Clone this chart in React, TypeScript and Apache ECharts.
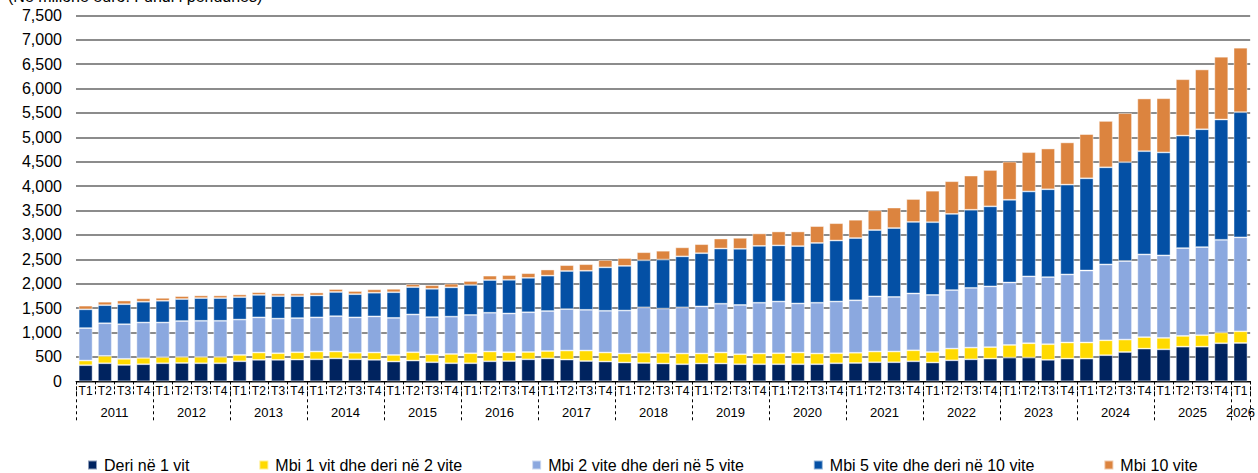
import React, { useEffect, useRef } from 'react';
import * as echarts from 'echarts';

const years = ['2011', '2012', '2013', '2014', '2015', '2016', '2017', '2018', '2019', '2020', '2021', '2022', '2023', '2024', '2025', '2026'];
const quarterNames = ['T1', 'T2', 'T3', 'T4'];
const seriesNames = [
  'Deri në 1 vit',
  'Mbi 1 vit dhe deri në 2 vite',
  'Mbi 2 vite dhe deri në 5 vite',
  'Mbi 5 vite dhe deri në 10 vite',
  'Mbi 10 vite',
];
const title = '(Në milionë euro. Fundi i periudhës)';

// 2011T1 ... 2026T1 (61 quarters)
const deriNe1Vit = [
  330, 370, 335, 350, 370, 375, 370, 370, 410, 440, 440, 445, 450, 470, 450, 440,
  405, 425, 390, 370, 370, 410, 415, 450, 470, 445, 415, 405, 385, 375, 365, 350,
  365, 365, 350, 350, 350, 350, 350, 370, 375, 390, 390, 410, 385, 430, 450, 465,
  485, 485, 440, 465, 465, 535, 600, 670, 655, 710, 710, 780, 785,
];
const mbi1Deri2 = [
  95, 150, 125, 130, 125, 125, 130, 130, 130, 150, 135, 150, 160, 140, 135, 150,
  135, 170, 160, 190, 205, 200, 180, 150, 150, 185, 215, 185, 185, 210, 215, 220,
  205, 225, 205, 220, 225, 240, 220, 205, 210, 220, 220, 225, 215, 240, 240, 235,
  260, 295, 320, 330, 330, 305, 255, 235, 235, 220, 235, 220, 240,
];
const mbi2Deri5 = [
  665, 670, 710, 725, 710, 735, 740, 740, 725, 720, 710, 700, 700, 725, 725, 740,
  760, 775, 765, 765, 785, 795, 795, 815, 820, 850, 835, 855, 880, 930, 910, 945,
  965, 1000, 1010, 1040, 1060, 1005, 1040, 1060, 1075, 1130, 1120, 1165, 1170, 1200, 1225, 1245,
  1280, 1370, 1375, 1395, 1475, 1555, 1610, 1695, 1690, 1800, 1805, 1900, 1925,
];
const mbi5Deri10 = [
  385, 370, 410, 425, 445, 450, 465, 465, 460, 460, 460, 450, 450, 495, 475, 485,
  525, 560, 580, 600, 615, 670, 690, 705, 725, 780, 800, 890, 915, 965, 1005, 1045,
  1090, 1130, 1150, 1165, 1150, 1175, 1225, 1250, 1275, 1360, 1410, 1465, 1490, 1560, 1600, 1640,
  1695, 1740, 1800, 1840, 1890, 1990, 2025, 2115, 2110, 2305, 2415, 2465, 2565,
];
const mbi10 = [
  75, 70, 75, 70, 60, 60, 55, 55, 55, 55, 55, 55, 60, 60, 65, 70,
  70, 60, 75, 75, 80, 90, 95, 95, 125, 120, 135, 150, 160, 165, 180, 185,
  185, 205, 225, 255, 285, 300, 345, 355, 375, 405, 420, 470, 645, 670, 700, 745,
  780, 805, 835, 865, 905, 950, 1005, 1080, 1110, 1155, 1225, 1285, 1320,
];

const seriesValues = [deriNe1Vit, mbi1Deri2, mbi2Deri5, mbi5Deri10, mbi10];
const colors = ['#00235F', '#FFDA00', '#8BA8DF', '#0450A5', '#DC843F'];

// quarter categories and the year each belongs to
const categories: string[] = [];
const categoryYears: string[] = [];
years.forEach((y, yi) => {
  const n = yi === years.length - 1 ? 1 : 4;
  for (let q = 0; q < n; q++) {
    categories.push(quarterNames[q]);
    categoryYears.push(y);
  }
});

// half-quarter slots for the year axis (boundaryGap false): slot i sits at i/(2N) of the width
const slotCount = categories.length * 2 + 1;
const yearSlots: string[] = new Array(slotCount).fill('');
const yearBoundary: boolean[] = new Array(slotCount).fill(false);
{
  let start = 0;
  years.forEach((y) => {
    let n = 0;
    while (start + n < categoryYears.length && categoryYears[start + n] === y) n++;
    yearSlots[2 * start + n] = y;
    yearBoundary[2 * start] = true;
    start += n;
  });
  yearBoundary[2 * start] = true;
}

const FONT = '"Liberation Sans", Arial, Helvetica, sans-serif';
const NARROW = '"Liberation Sans Narrow", "Arial Narrow", "Liberation Sans", Arial, sans-serif';

const fmt = (v: number) => String(v).replace(/\B(?=(\d{3})+(?!\d))/g, ',');

export default function App() {
  const ref = useRef<HTMLDivElement>(null);
  useEffect(() => {
    if (!ref.current) return;
    const chart = echarts.init(ref.current, null, { renderer: 'svg' });
    chart.setOption({
      animation: false,
      textStyle: { fontFamily: FONT },
      graphic: [
        {
          type: 'text',
          left: 8,
          top: 4,
          style: { text: title, fontSize: 16, fontFamily: FONT, fill: '#000' },
        },
      ],
      legend: {
        left: 82,
        top: 468,
        icon: 'rect',
        itemWidth: 9,
        itemHeight: 9,
        itemGap: 69,
        textStyle: { fontSize: 16, color: '#000', fontFamily: FONT, padding: [0, 0, 0, 2] },
        data: seriesNames,
      },
      grid: { left: 76, right: 2, top: 31.3, bottom: 91.7, containLabel: false },
      xAxis: [
        {
          type: 'category',
          data: categories,
          position: 'bottom',
          axisLine: { show: true, lineStyle: { color: '#000', width: 1 } },
          axisTick: { show: true, interval: 0, length: 14, lineStyle: { color: '#000', width: 1, type: [3, 2] } },
          axisLabel: { interval: 0, margin: 4, fontSize: 12, color: '#000', fontFamily: NARROW },
          splitLine: { show: false },
        },
        {
          type: 'category',
          data: yearSlots,
          boundaryGap: false,
          position: 'bottom',
          axisLine: { show: false },
          axisTick: {
            show: true,
            interval: (i: number) => yearBoundary[i],
            length: 42,
            lineStyle: { color: '#000', width: 1, type: [3, 3] },
          },
          axisLabel: {
            interval: (i: number, v: string) => v !== '',
            margin: 25,
            fontSize: 13,
            color: '#000',
            fontFamily: FONT,
          },
          splitLine: { show: false },
        },
      ],
      yAxis: {
        type: 'value',
        min: 0,
        max: 7500,
        interval: 500,
        axisLine: { show: false },
        axisTick: { show: false },
        axisLabel: { fontSize: 16, color: '#000', margin: 14, fontFamily: FONT, formatter: (v: number) => fmt(v) },
        splitLine: { show: true, lineStyle: { color: '#8c8c8c', width: 2 } },
      },
      series: seriesNames.map((name, i) => ({
        name,
        type: 'bar',
        stack: 'total',
        xAxisIndex: 0,
        barCategoryGap: '28%',
        data: seriesValues[i],
        itemStyle: { color: colors[i], borderColor: 'rgba(255,255,255,0.55)', borderWidth: 0.8 },
      })),
    });
    return () => chart.dispose();
  }, []);
  return <div ref={ref} style={{ position: 'absolute', left: 0, top: -16, width: 1258, height: 489 }} />;
}
